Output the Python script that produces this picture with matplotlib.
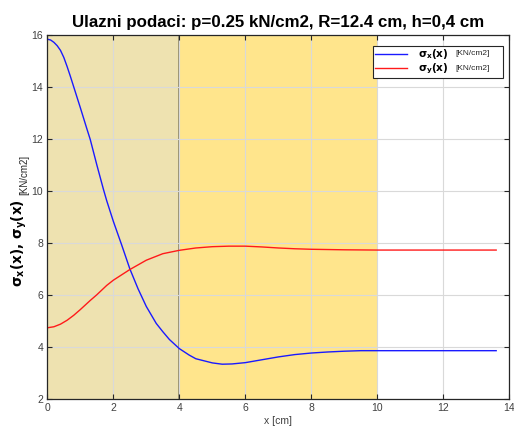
import matplotlib
matplotlib.use("Agg")
import matplotlib.pyplot as plt

plt.rcParams['font.family'] = ['Liberation Sans', 'DejaVu Sans']
plt.rcParams['mathtext.fontset'] = 'dejavusans'

# sigma_x(x)
x_sx = [0.0, 0.1, 0.2, 0.3, 0.4, 0.5, 0.6, 0.7, 0.8, 0.9, 1.0, 1.1, 1.2, 1.3, 1.5, 1.7,
        1.8, 2.0, 2.25, 2.5, 2.75, 3.0, 3.3, 3.5, 3.7, 4.0, 4.3, 4.5, 5.0, 5.3, 5.6,
        6.0, 6.5, 7.0, 7.5, 8.0, 8.5, 9.0, 9.5, 10.0, 13.6]
sx = [15.85, 15.82, 15.73, 15.60, 15.42, 15.15, 14.80, 14.42, 14.02, 13.62, 13.22,
      12.81, 12.40, 12.00, 11.02, 10.08, 9.64, 8.85, 7.95, 7.02, 6.25, 5.57, 4.92,
      4.60, 4.30, 3.95, 3.70, 3.56, 3.40, 3.35, 3.36, 3.41, 3.52, 3.63, 3.72, 3.78,
      3.82, 3.85, 3.87, 3.87, 3.87]

# sigma_y(x)
x_sy = [0.0, 0.2, 0.4, 0.6, 0.8, 1.0, 1.3, 1.5, 1.8, 2.0, 2.5, 3.0, 3.5, 4.0, 4.5,
        5.0, 5.5, 6.0, 6.5, 7.0, 7.5, 8.0, 9.0, 10.0, 13.6]
sy = [4.75, 4.79, 4.89, 5.04, 5.23, 5.45, 5.80, 6.02, 6.38, 6.58, 6.99, 7.35, 7.60,
      7.73, 7.82, 7.87, 7.89, 7.89, 7.86, 7.82, 7.79, 7.77, 7.75, 7.74, 7.74]

zone1 = (0, 4)
zone2 = (4, 10)
xticks = [0, 2, 4, 6, 8, 10, 12, 14]
yticks = [2, 4, 6, 8, 10, 12, 14, 16]
title = "Ulazni podaci: p=0.25 kN/cm2, R=12.4 cm, h=0,4 cm"
unit = "[KN/cm2]"

fig = plt.figure(figsize=(5.14, 4.30), dpi=100)
ax = fig.add_axes([0.092, 0.0714, 0.899, 0.8465])

ax.axvspan(*zone1, color='#EEE2B0', lw=0, zorder=0.1)
ax.axvspan(*zone2, color='#FFE58C', lw=0, zorder=0.1)
ax.axvline(zone1[1], color='#8a8467', lw=1.2, zorder=0.3)

ax.set_axisbelow(True)
ax.grid(True, color='#d9d9d9', lw=0.8)

l1, = ax.plot(x_sx, sx, color='#1a1aff', lw=1.0, label=r'$\mathbf{\sigma_x(x)}$')
l2, = ax.plot(x_sy, sy, color='#ff1a1a', lw=1.0, label=r'$\mathbf{\sigma_y(x)}$')

ax.set_xlim(0, 14)
ax.set_ylim(2, 16)
ax.set_xticks(xticks)
ax.set_yticks(yticks)
ax.tick_params(direction='in', length=3.5, width=0.8, top=True, right=True,
               labelsize=7.5, labelcolor='#404040', color='#262626', pad=3)
for s in ax.spines.values():
    s.set_color('#262626')
    s.set_linewidth(0.9)

ax.set_xlabel('x [cm]', fontsize=7.5, color='#404040', labelpad=2)
ax.set_title(title, fontsize=12.2, fontweight='bold', pad=6)

ax.set_ylabel(r'$\mathbf{\sigma_x(x),\,\sigma_y(x)}$', fontsize=9.8)
ax.yaxis.set_label_coords(-0.040, 0.430)
ax.annotate(unit, xy=(1.0, 1.0), xycoords=ax.yaxis.label, xytext=(0, 3),
            textcoords='offset points', rotation=90, ha='right', va='bottom',
            fontsize=7, color='#262626')

leg = ax.legend(loc='upper left', bbox_to_anchor=(0.705, 0.0, 0.281, 0.971),
                mode='expand', borderaxespad=0, fontsize=7.5, frameon=True,
                fancybox=False, edgecolor='#262626', framealpha=1, borderpad=0.15,
                labelspacing=0.05, handlelength=3.1, handletextpad=1.1)
leg.get_frame().set_linewidth(0.8)
for t in leg.get_texts():
    ax.annotate(unit, xy=(0, 0.55), xycoords=t, xytext=(27, 0),
                textcoords='offset points', ha='left', va='center',
                fontsize=6, color='#262626', zorder=10)

fig.savefig('out.png', dpi=100)
